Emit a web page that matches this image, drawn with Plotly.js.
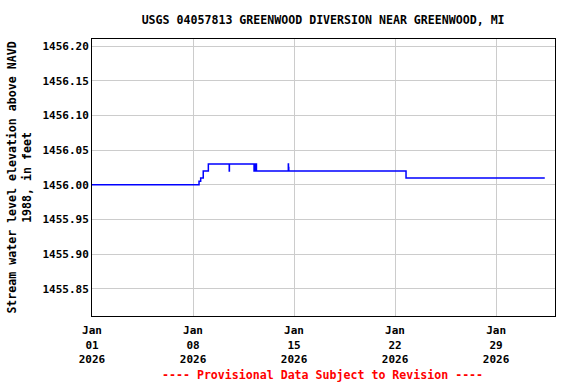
<!DOCTYPE html>
<html>
<head>
<meta charset="utf-8">
<script src="https://cdn.plot.ly/plotly-3.0.1.min.js"></script>
<style>html,body{margin:0;padding:0;background:#fff;}#chart{width:576px;height:384px;}</style>
</head>
<body>
<div id="chart"></div>
<script>
// Change points of the stepped gage-height record (value holds until next time)
const times = [
  '2026-01-01 00:00', '2026-01-08 10:00', '2026-01-08 12:45', '2026-01-08 17:00',
  '2026-01-09 01:30', '2026-01-10 12:15', '2026-01-10 12:30', '2026-01-12 05:30',
  '2026-01-12 06:30', '2026-01-12 07:30', '2026-01-12 08:30', '2026-01-12 09:30',
  '2026-01-14 14:30', '2026-01-14 14:45', '2026-01-14 15:15', '2026-01-22 18:15',
  '2026-02-01 09:00'
];
const elevation = [
  1456.00, 1456.005, 1456.01, 1456.02,
  1456.03, 1456.02, 1456.03, 1456.02,
  1456.03, 1456.02, 1456.03, 1456.02,
  1456.03, 1456.025, 1456.02, 1456.01,
  1456.01
];
const tickDates = ['2026-01-01', '2026-01-08', '2026-01-15', '2026-01-22', '2026-01-29'];
const tickLabels = ['Jan<br>01<br>2026', 'Jan<br>08<br>2026', 'Jan<br>15<br>2026', 'Jan<br>22<br>2026', 'Jan<br>29<br>2026'];
const yTicks = [1455.85, 1455.90, 1455.95, 1456.00, 1456.05, 1456.10, 1456.15, 1456.20];
const yTickLabels = ['1455.85', '1455.90', '1455.95', '1456.00', '1456.05', '1456.10', '1456.15', '1456.20'];

const mono = 'DejaVu Sans Mono, Liberation Mono, monospace';

Plotly.newPlot('chart', [{
  x: times,
  y: elevation,
  type: 'scatter',
  mode: 'lines',
  line: {color: '#0000ff', width: 1.5, shape: 'hv'},
  hoverinfo: 'skip'
}], {
  width: 576,
  height: 384,
  margin: {l: 92, r: 21, t: 39, b: 68},
  paper_bgcolor: '#ffffff',
  plot_bgcolor: '#ffffff',
  showlegend: false,
  title: {
    text: '<b>USGS 04057813 GREENWOOD DIVERSION NEAR GREENWOOD, MI</b>',
    font: {family: mono, size: 11.6, color: '#000'},
    x: 0.561, xanchor: 'center', y: 0.948, yanchor: 'middle'
  },
  xaxis: {
    type: 'date',
    range: ['2026-01-01 00:00', '2026-02-02 02:00'],
    tickvals: tickDates,
    ticktext: tickLabels.map(t => '<b>' + t + '</b>'),
    tickfont: {family: mono, size: 11, color: '#000'},
    ticklabelstandoff: 4,
    showgrid: true, gridcolor: '#cccccc', gridwidth: 1,
    showline: true, linecolor: '#000', linewidth: 1, mirror: true,
    ticks: '', zeroline: false
  },
  yaxis: {
    range: [1455.811, 1456.2101],
    tickvals: yTicks,
    ticktext: yTickLabels.map(t => '<b>' + t + '</b>'),
    tickfont: {family: mono, size: 11, color: '#000'},
    showgrid: true, gridcolor: '#cccccc', gridwidth: 1,
    showline: true, linecolor: '#000', linewidth: 1, mirror: true,
    ticks: '', ticklen: 0, zeroline: false,
    title: {
      text: '<b>Stream water level elevation above NAVD<br>1988, in feet</b>',
      font: {family: mono, size: 11.6, color: '#000'},
      standoff: 8
    }
  },
  annotations: [{
    text: '<b>---- Provisional Data Subject to Revision ----</b>',
    xref: 'paper', yref: 'paper', x: 0.497, y: -0.213,
    xanchor: 'center', yanchor: 'middle', showarrow: false,
    font: {family: mono, size: 11.6, color: '#ff0000'}
  }]
}, {displayModeBar: false, staticPlot: true});
</script>
</body>
</html>
